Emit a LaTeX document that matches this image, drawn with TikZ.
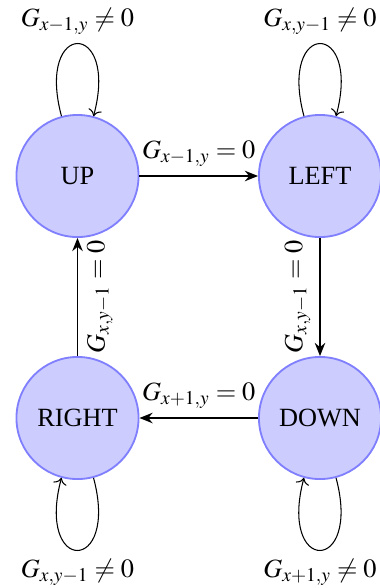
\documentclass[tikz,border=0pt]{standalone}
\usepackage{mathptmx}
\usepackage{fontspec}
\setmainfont{Liberation Serif}
\usetikzlibrary{arrows.meta}
\begin{document}
\begin{tikzpicture}[x={(0.38pt,0)}, y={(0,-0.38pt)},
  state/.style={circle, draw=blue!50, fill=blue!20, line width=0.7pt, minimum size=46.4pt, inner sep=0pt, font=\normalsize},
  trans/.style={-{Stealth[length=5pt,width=4pt]}, semithick},
  selfloop/.style={->, thin, looseness=8, min distance=5mm}]
\useasboundingbox (0,0) rectangle (380,588);
\node[state] (up) at (77.5,176) {UP};
\node[state] (left) at (320,176) {LEFT};
\node[state] (right) at (77.5,418) {RIGHT};
\node[state] (down) at (320,418) {DOWN};
\draw[trans] (up) -- node[above] {$G_{x-1,y}=0$} (left);
\draw[trans] (left) -- node[midway, anchor=south, rotate=90] {$G_{x,y-1}=0$} (down);
\draw[trans] (down) -- node[above] {$G_{x+1,y}=0$} (right);
\draw[trans] (right) -- node[midway, anchor=north, rotate=90] {$G_{x,y-1}=0$} (up);
\draw[selfloop] (up) to[loop above] node[above] {$G_{x-1,y}\neq 0$} (up);
\draw[selfloop] (left) to[loop above] node[above] {$G_{x,y-1}\neq 0$} (left);
\draw[selfloop] (right) to[loop below] node[below] {$G_{x,y-1}\neq 0$} (right);
\draw[selfloop] (down) to[loop below] node[below] {$G_{x+1,y}\neq 0$} (down);
\end{tikzpicture}
\end{document}
